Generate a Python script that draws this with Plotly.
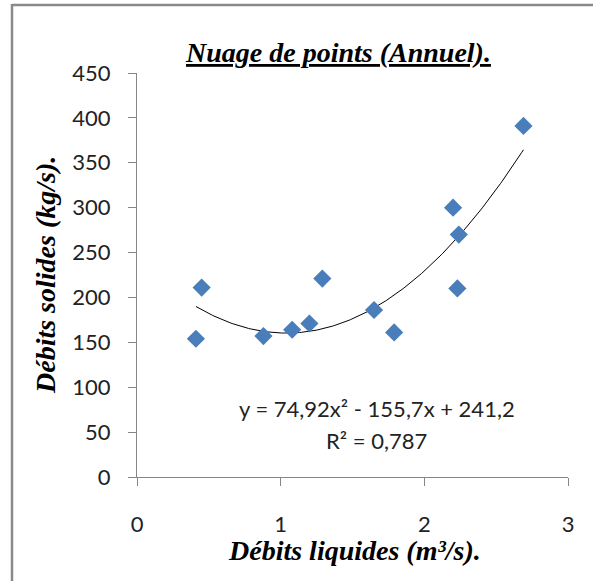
import numpy as np
import plotly.graph_objects as go

# Data
debits_liquides = [0.41, 0.45, 0.88, 1.08, 1.20, 1.29, 1.65, 1.79, 2.20, 2.24, 2.23, 2.69]
debits_solides = [154, 211, 157, 164, 171, 221, 186, 161, 300, 270, 210, 391]

# Polynomial trend (order 2) coefficients as shown on the chart
trend_coefs = [74.92, -155.7, 241.2]
r2_value = "0,787"

title_text = "Nuage de points (Annuel)."
x_title = "Débits liquides (m³/s)."
y_title = "Débits solides (kg/s)."
equation_text = "y = 74,92x² - 155,7x + 241,2"
r2_text = "R² = " + r2_value

x_ticks = [0, 1, 2, 3]
y_ticks = [0, 50, 100, 150, 200, 250, 300, 350, 400, 450]

W, H = 593, 581
L, R, T, B = 137, 25, 73, 104
pw, ph = W - L - R, H - T - B


def px_x(p):
    return (p - L) / pw


def px_y(p):
    return (H - B - p) / ph


xs = np.linspace(min(debits_liquides), max(debits_liquides), 200)
ys = np.polyval(trend_coefs, xs)

fig = go.Figure()
fig.add_trace(go.Scatter(
    x=xs, y=ys, mode="lines",
    line=dict(color="black", width=1),
    hoverinfo="skip", showlegend=False,
))
fig.add_trace(go.Scatter(
    x=debits_liquides, y=debits_solides, mode="markers",
    marker=dict(symbol="diamond", size=14, color="#4A7EBB",
                line=dict(width=0)),
    showlegend=False,
))

tick_font = dict(family="Lato", size=22, color="#222222")
title_font = "Liberation Serif"

fig.update_layout(
    width=W, height=H,
    margin=dict(l=L, r=R, t=T, b=B, autoexpand=False),
    paper_bgcolor="white", plot_bgcolor="white",
    xaxis=dict(
        range=[0, 3], tickvals=x_ticks, showgrid=False, zeroline=False,
        showline=True, linecolor="#868686", linewidth=1,
        ticks="outside", ticklen=8, tickcolor="#868686",
        tickfont=tick_font, ticklabelstandoff=20,
    ),
    yaxis=dict(
        range=[0, 450], tickvals=y_ticks, showgrid=False, zeroline=False,
        showline=True, linecolor="#868686", linewidth=1,
        ticks="outside", ticklen=8, tickcolor="#868686",
        tickfont=tick_font, ticklabelstandoff=13,
    ),
    annotations=[
        dict(text="<u><b><i>" + title_text + "</i></b></u>",
             xref="paper", yref="paper", x=px_x(338), y=px_y(53),
             showarrow=False, xanchor="center", yanchor="middle",
             font=dict(family=title_font, size=28, color="black")),
        dict(text="<b><i>" + x_title + "</i></b>",
             xref="paper", yref="paper", x=px_x(354), y=px_y(550),
             showarrow=False, xanchor="center", yanchor="middle",
             font=dict(family=title_font, size=28, color="black")),
        dict(text="<b><i>" + y_title + "</i></b>",
             xref="paper", yref="paper", x=px_x(45), y=px_y(275),
             showarrow=False, xanchor="center", yanchor="middle", textangle=-90,
             font=dict(family=title_font, size=28, color="black")),
        dict(text=equation_text,
             xref="paper", yref="paper", x=px_x(377), y=px_y(408),
             showarrow=False, xanchor="center", yanchor="middle",
             font=dict(family="Lato", size=22, color="#222222")),
        dict(text=r2_text,
             xref="paper", yref="paper", x=px_x(376), y=px_y(440),
             showarrow=False, xanchor="center", yanchor="middle",
             font=dict(family="Lato", size=22, color="#222222")),
    ],
    shapes=[
        dict(type="line", xref="paper", yref="paper",
             x0=px_x(12), x1=px_x(W + 5), y0=px_y(5), y1=px_y(5),
             line=dict(color="#8a8a8a", width=2.5)),
        dict(type="line", xref="paper", yref="paper",
             x0=px_x(12), x1=px_x(12), y0=px_y(4), y1=px_y(H + 5),
             line=dict(color="#8a8a8a", width=2.5)),
    ],
)

fig.write_html("out.html",
               config={"displayModeBar": False},
               post_script="document.body.style.margin='0px';"
                           "document.body.style.overflow='hidden';"
                           "document.documentElement.style.overflow='hidden';")
